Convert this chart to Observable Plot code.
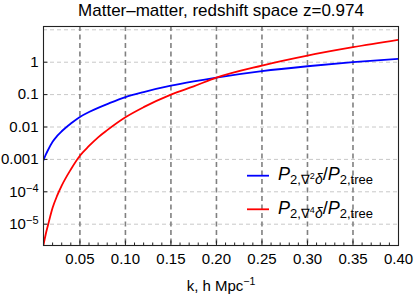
<!DOCTYPE html>
<html><head><meta charset="utf-8">
<script src="https://cdn.jsdelivr.net/npm/d3@7"></script>
<script src="https://cdn.jsdelivr.net/npm/@observablehq/plot@0.6"></script>
<style>
body{margin:0;background:#fff}
#chart svg{display:block}
</style></head><body><div id="chart"></div>
<script>
// ---- data ----
const k     = [0.01, 0.0125, 0.015, 0.02, 0.025, 0.03, 0.04, 0.05, 0.06, 0.07, 0.08, 0.10, 0.12, 0.15, 0.175, 0.20, 0.25, 0.30, 0.35, 0.40];
const grad2 = [9.5e-4, 1.4e-3, 1.95e-3, 3.5e-3, 5.3e-3, 7.4e-3, 0.0128, 0.0205, 0.029, 0.039, 0.051, 0.084, 0.12, 0.188, 0.255, 0.335, 0.53, 0.75, 1.0, 1.27];
const grad4 = [2.3e-6, 5.0e-6, 9.5e-6, 3.2e-5, 7.6e-5, 1.55e-4, 4.9e-4, 1.3e-3, 2.6e-3, 4.8e-3, 8.0e-3, 0.02, 0.041, 0.10, 0.18, 0.335, 0.79, 1.6, 2.9, 4.9];
const seriesNames  = ["grad2", "grad4"];
const seriesColors = ["#0000ff", "#ff0000"];
const legendExponents = ["2", "4"];
const xMajorTicks = [0.05, 0.10, 0.15, 0.20, 0.25, 0.30, 0.35, 0.40];
const xGridTicks  = [0.05, 0.10, 0.15, 0.20, 0.25, 0.30, 0.35];
const xMinorTicks = [0.01,0.02,0.03,0.04,0.06,0.07,0.08,0.09,0.11,0.12,0.13,0.14,0.16,0.17,0.18,0.19,0.21,0.22,0.23,0.24,0.26,0.27,0.28,0.29,0.31,0.32,0.33,0.34,0.36,0.37,0.38,0.39];
const yTicks      = [1e-5, 1e-4, 1e-3, 1e-2, 1e-1, 1];
const yTickLabels = ["10^-5", "10^-4", "0.001", "0.01", "0.1", "1"];
const yGridTicks  = [1e-5, 1e-4, 1e-3, 1e-2, 1e-1, 1, 10];
const titleText = "Matter\u2013matter, redshift space z=0.974";
const xLabelText = "k, h Mpc";
const xLabelExp = "\u22121";

const rows = [];
k.forEach((kv, i) => {
  rows.push({k: kv, value: grad2[i], series: seriesNames[0]});
  rows.push({k: kv, value: grad4[i], series: seriesNames[1]});
});

const FONT = "'Liberation Sans', Arial, sans-serif";
const plot = Plot.plot({
  width: 415, height: 297,
  marginTop: 26, marginRight: 17, marginBottom: 52, marginLeft: 43,
  style: {fontFamily: FONT, fontSize: "15px", background: "white", color: "#000", overflow: "visible"},
  x: {domain: [0.01, 0.4]},
  y: {type: "log", domain: [2.2e-6, 12.65]},
  color: {domain: seriesNames, range: seriesColors},
  marks: [
    Plot.gridY(yGridTicks, {stroke: "#c8c8c8", strokeOpacity: 1, strokeDasharray: "4,3"}),
    Plot.gridX(xGridTicks, {stroke: "#808080", strokeOpacity: 1, strokeWidth: 1.6, strokeDasharray: "5,3.5"}),
    Plot.line(rows, {x: "k", y: "value", z: "series", stroke: "series", strokeWidth: 1.8, curve: "monotone-x", clip: true}),
    Plot.axisX(xMinorTicks, {tickSize: -2.5, tickFormat: () => "", label: null, stroke: "#222"}),
    Plot.axisX(xMajorTicks, {tickSize: -4.5, tickPadding: 12.5, tickFormat: d => d.toFixed(2), label: null, fontSize: 15, stroke: "#222"}),
    Plot.axisY(yTicks, {tickSize: -4.5, tickPadding: 9.5, tickFormat: d => yTickLabels[yTicks.indexOf(d)], label: null, fontSize: 15, stroke: "#222"}),
    Plot.frame({stroke: "#222", strokeWidth: 1.1}),
    Plot.text([titleText], {frameAnchor: "top", dy: -11, fontSize: 17, lineAnchor: "bottom"}),
    Plot.text([xLabelText], {frameAnchor: "bottom", dy: 45, fontSize: 15, lineAnchor: "bottom", className: "xlabel"})
  ]
});
document.getElementById("chart").appendChild(plot);
const svg = d3.select(plot);

// y tick labels with exponents
svg.selectAll('g[aria-label="y-axis tick label"] text').each(function() {
  const t = d3.select(this);
  const s = t.text();
  if (s.startsWith("10^")) {
    const exp = s.slice(3).replace("-", "\u2212");
    t.text("10");
    t.append("tspan").attr("font-size", 11).attr("dy", "-0.45em").text(exp);
  }
});
// x label exponent
svg.selectAll("g.xlabel text").each(function() {
  d3.select(this).append("tspan").attr("font-size", 10.5).attr("dy", "-0.5em").text(xLabelExp);
});

// legend
const lx = 247, ly = [175.7, 209.3];
const lg = svg.append("g").attr("font-family", FONT).attr("text-anchor", "start");
seriesNames.forEach((name, i) => {
  lg.append("line").attr("x1", lx).attr("x2", lx + 22).attr("y1", ly[i]).attr("y2", ly[i])
    .attr("stroke", seriesColors[i]).attr("stroke-width", 1.8);
  const t = lg.append("text").attr("x", lx + 31).attr("y", ly[i] + 4.5).attr("font-size", 18).attr("fill", "#000").attr("text-anchor", "start");
  t.append("tspan").attr("font-style", "italic").text("P");
  t.append("tspan").attr("font-size", 13).attr("dy", 4).text("2,\u2207");
  t.append("tspan").attr("font-size", 9).attr("dy", -5).text(legendExponents[i]);
  t.append("tspan").attr("font-size", 14).attr("font-style", "italic").attr("dy", 5).text("\u03b4");
  t.append("tspan").attr("dy", -4).text("/");
  t.append("tspan").attr("font-style", "italic").text("P");
  t.append("tspan").attr("font-size", 13).attr("dy", 4).text("2,tree");
});
</script></body></html>
